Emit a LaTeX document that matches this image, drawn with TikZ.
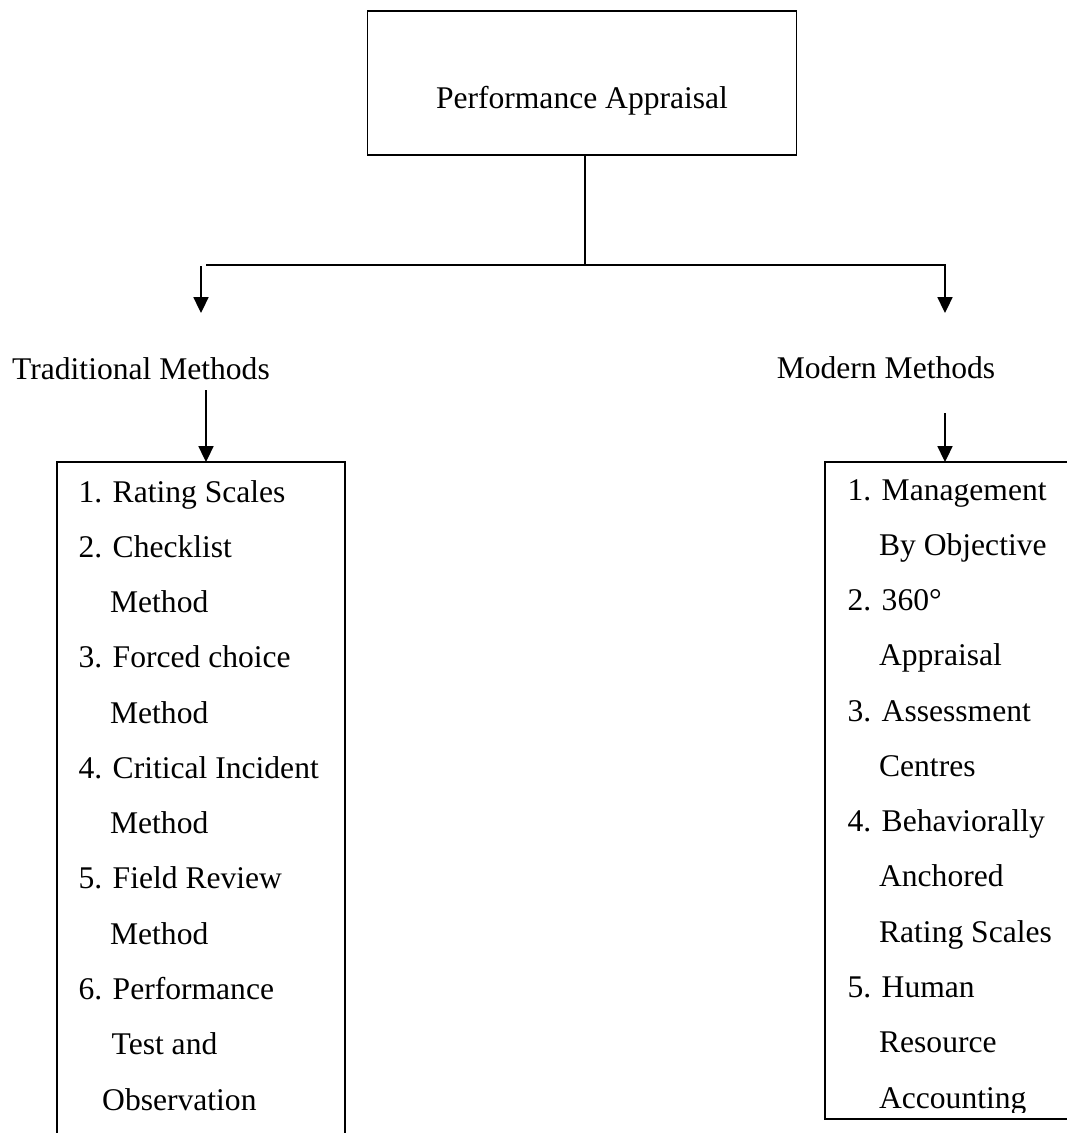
\documentclass[tikz,border=0pt]{standalone}
\usepackage{fontspec}
\setmainfont{Liberation Serif}
\usetikzlibrary{arrows.meta}

\begin{document}
\begin{tikzpicture}[
        x=0.38pt,
        y=-0.38pt,
        font=\fontsize{12}{21}\selectfont,
        box/.style={
            draw,
            line width=0.55pt,
            inner sep=0pt,
            minimum width=163pt,
            text height=36.9pt,
            text depth=17.8pt
        },
        heading/.style={
            anchor=base,
            inner sep=0pt
        },
        items/.style={
            anchor=base west,
            align=left,
            inner sep=0pt
        },
        line/.style={
            line width=0.55pt
        },
        arrow/.style={
            line,
            -{Triangle[width=5.7pt,length=6pt]}
        }
    ]
    \useasboundingbox (0,0) rectangle (1067,1133);
    \clip (0,0) rectangle (1067,1133);

    % Top box
    \node[box] (pa) at (582,83) {Performance Appraisal};

    % Headings of the two branches
    \node[heading] (trad) at (141,379) {Traditional Methods};
    \node[heading] (modern) at (886,378) {Modern Methods};

    % Branch points
    \coordinate (split) at (585,265);
    \coordinate (hstart) at (206,265);
    \coordinate (ltop) at (201,266);
    \coordinate (lbot) at (201,313);
    \coordinate (rbot) at (945,313);

    \draw[line] (split |- pa.south) -- (split);
    \draw[arrow] (hstart) -| (rbot);
    \draw[arrow] (ltop) -- (lbot);

    % List boxes
    \coordinate (tradnw) at (57,462);
    \coordinate (tradse) at (345,1160);
    \coordinate (modnw) at (825,462);
    \coordinate (modse) at (1080,1119);

    \draw[line] (tradnw) rectangle (tradse);
    \draw[line] (modnw) rectangle (modse);

    % Arrows down to the lists
    \coordinate (tradfrom) at (206,390);
    \coordinate (tradto) at (206,462);
    \coordinate (modfrom) at (945,413);
    \coordinate (modto) at (945,462);

    \draw[arrow] (tradfrom) -- (tradto);
    \draw[arrow] (modfrom) -- (modto);

    % Traditional methods (placed by the last line)
    \node[items] (tradlist) at (78,1110) {1. Rating Scales\\
        2. Checklist\\
        \hspace*{1em}Method\\
        3. Forced choice\\
        \hspace*{1em}Method\\
        4. Critical Incident\\
        \hspace*{1em}Method\\
        5. Field Review\\
        \hspace*{1em}Method\\
        6. Performance\\
        \hspace*{1.05em}Test and\\
        \hspace*{0.75em}Observation};

    % Modern methods (cut off by the box)
    \begin{scope}
        \clip (modnw) rectangle (1067,1112);
        \node[items] (modlist) at (847,1108) {1. Management\\
            \hspace*{1em}By Objective\\
            2. 360°\\
            \hspace*{1em}Appraisal\\
            3. Assessment\\
            \hspace*{1em}Centres\\
            4. Behaviorally\\
            \hspace*{1em}Anchored\\
            \hspace*{1em}Rating Scales\\
            5. Human\\
            \hspace*{1em}Resource\\
            \hspace*{1em}Accounting};
    \end{scope}

\end{tikzpicture}
\end{document}
